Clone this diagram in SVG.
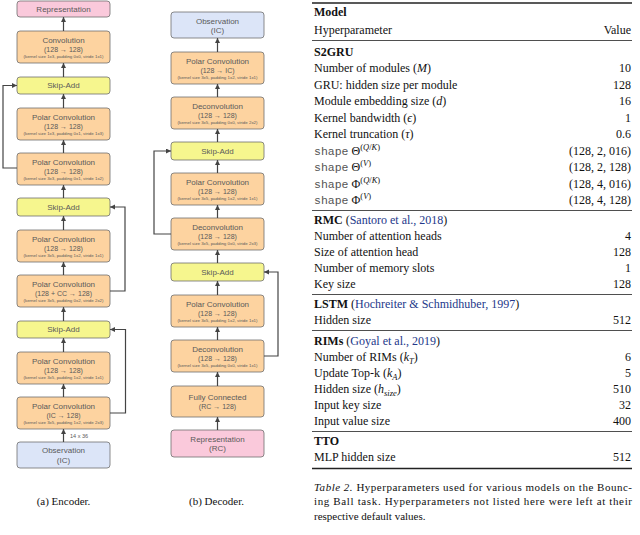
<svg xmlns="http://www.w3.org/2000/svg" width="640" height="535" viewBox="0 0 640 535">
<style>
.bx{stroke:#6e6e6e;stroke-width:0.8}
.or{fill:#fdd3a0}.yl{fill:#f6f68e}.pk{fill:#fac9db}.bl{fill:#dce5f8}
.t{font-family:"Liberation Sans",Arial,sans-serif;fill:#5a5a5a;text-anchor:middle}
.a{font-size:8px}.b{font-size:7px}.c{font-size:4.4px}
.cn{stroke:#444;stroke-width:1.2;fill:none}
.tb{font-family:"Liberation Serif","Times New Roman",serif;font-size:12px;fill:#111}
.v{text-anchor:end}
.cap{font-family:"Liberation Serif","Times New Roman",serif;font-size:11px;fill:#111}
.mono{font-family:"Liberation Mono","Courier New",monospace;font-size:11.5px;fill:#555}
.cite{fill:#23388a}
.rule{stroke:#222;stroke-width:0.8}
.rthick{stroke:#222;stroke-width:1.3}
</style>
<defs>
<marker id="ah" markerUnits="userSpaceOnUse" markerWidth="6" markerHeight="6" refX="5" refY="2.5" orient="auto">
<path d="M0,0 L5,2.5 L0,5 z" fill="#444"/>
</marker>
</defs>

<!-- Encoder -->
<g id="enc-rep"><rect class="bx pk" x="17" y="1" width="93" height="16" rx="3"/><text class="t a" x="63.5" y="12">Representation</text></g>
<g id="enc-conv"><rect class="bx or" x="17" y="31" width="93" height="32" rx="3"/><text class="t a" x="63.5" y="42.5">Convolution</text><text class="t b" x="63.5" y="51.5">(128 → 128)</text><text class="t c" x="63.5" y="57.5">(kernel size 1x3, padding 0x0, stride 1x1)</text></g>
<g id="enc-skip3"><rect class="bx yl" x="17" y="77" width="93" height="17" rx="3"/><text class="t a" x="63.5" y="88.3">Skip-Add</text></g>
<g id="enc-pc5"><rect class="bx or" x="17" y="108" width="93" height="32" rx="3"/><text class="t a" x="63.5" y="119.5">Polar Convolution</text><text class="t b" x="63.5" y="128.5">(128 → 128)</text><text class="t c" x="63.5" y="134.5">(kernel size 1x3, padding 0x1, stride 1x3)</text></g>
<g id="enc-pc4"><rect class="bx or" x="17" y="153" width="93" height="32" rx="3"/><text class="t a" x="63.5" y="164.5">Polar Convolution</text><text class="t b" x="63.5" y="173.5">(128 → 128)</text><text class="t c" x="63.5" y="179.5">(kernel size 3x3, padding 0x1, stride 1x2)</text></g>
<g id="enc-skip2"><rect class="bx yl" x="17" y="198" width="93" height="18" rx="3"/><text class="t a" x="63.5" y="209.8">Skip-Add</text></g>
<g id="enc-pc3"><rect class="bx or" x="17" y="230" width="93" height="32" rx="3"/><text class="t a" x="63.5" y="241.5">Polar Convolution</text><text class="t b" x="63.5" y="250.5">(128 → 128)</text><text class="t c" x="63.5" y="256.5">(kernel size 3x5, padding 1x2, stride 1x1)</text></g>
<g id="enc-pc2"><rect class="bx or" x="17" y="275" width="93" height="32" rx="3"/><text class="t a" x="63.5" y="286.5">Polar Convolution</text><text class="t b" x="63.5" y="295.5">(128 + CC → 128)</text><text class="t c" x="63.5" y="301.5">(kernel size 3x5, padding 0x2, stride 2x2)</text></g>
<g id="enc-skip1"><rect class="bx yl" x="17" y="321" width="93" height="17" rx="3"/><text class="t a" x="63.5" y="332.3">Skip-Add</text></g>
<g id="enc-pc1"><rect class="bx or" x="17" y="352" width="93" height="32" rx="3"/><text class="t a" x="63.5" y="363.5">Polar Convolution</text><text class="t b" x="63.5" y="372.5">(128 → 128)</text><text class="t c" x="63.5" y="378.5">(kernel size 3x5, padding 1x2, stride 1x1)</text></g>
<g id="enc-pc0"><rect class="bx or" x="17" y="397" width="93" height="32" rx="3"/><text class="t a" x="63.5" y="408.5">Polar Convolution</text><text class="t b" x="63.5" y="417.5">(IC → 128)</text><text class="t c" x="63.5" y="423.5">(kernel size 3x5, padding 1x2, stride 2x3)</text></g>
<g id="enc-obs"><rect class="bx bl" x="17" y="442" width="93" height="26" rx="3"/><text class="t a" x="63.5" y="453">Observation</text><text class="t a" x="63.5" y="462.5">(IC)</text></g>

<!-- Decoder -->
<g id="dec-obs"><rect class="bx bl" x="171" y="12" width="93" height="26" rx="3"/><text class="t a" x="217.5" y="23.5">Observation</text><text class="t a" x="217.5" y="33">(IC)</text></g>
<g id="dec-pc2"><rect class="bx or" x="171" y="52" width="93" height="32" rx="3"/><text class="t a" x="217.5" y="63.5">Polar Convolution</text><text class="t b" x="217.5" y="72.5">(128 → IC)</text><text class="t c" x="217.5" y="78.5">(kernel size 3x5, padding 1x2, stride 1x1)</text></g>
<g id="dec-dc2"><rect class="bx or" x="171" y="97" width="93" height="32" rx="3"/><text class="t a" x="217.5" y="108.5">Deconvolution</text><text class="t b" x="217.5" y="117.5">(128 → 128)</text><text class="t c" x="217.5" y="123.5">(kernel size 3x5, padding 0x0, stride 2x2)</text></g>
<g id="dec-skip2"><rect class="bx yl" x="171" y="142" width="93" height="18" rx="3"/><text class="t a" x="217.5" y="153.8">Skip-Add</text></g>
<g id="dec-pc1"><rect class="bx or" x="171" y="173" width="93" height="32" rx="3"/><text class="t a" x="217.5" y="184.5">Polar Convolution</text><text class="t b" x="217.5" y="193.5">(128 → 128)</text><text class="t c" x="217.5" y="199.5">(kernel size 3x5, padding 1x2, stride 1x1)</text></g>
<g id="dec-dc1"><rect class="bx or" x="171" y="218" width="93" height="32" rx="3"/><text class="t a" x="217.5" y="229.5">Deconvolution</text><text class="t b" x="217.5" y="238.5">(128 → 128)</text><text class="t c" x="217.5" y="244.5">(kernel size 3x5, padding 0x0, stride 2x3)</text></g>
<g id="dec-skip1"><rect class="bx yl" x="171" y="263" width="93" height="18" rx="3"/><text class="t a" x="217.5" y="274.8">Skip-Add</text></g>
<g id="dec-pc0"><rect class="bx or" x="171" y="295" width="93" height="32" rx="3"/><text class="t a" x="217.5" y="306.5">Polar Convolution</text><text class="t b" x="217.5" y="315.5">(128 → 128)</text><text class="t c" x="217.5" y="321.5">(kernel size 3x5, padding 1x2, stride 1x1)</text></g>
<g id="dec-dc0"><rect class="bx or" x="171" y="340" width="93" height="32" rx="3"/><text class="t a" x="217.5" y="351.5">Deconvolution</text><text class="t b" x="217.5" y="360.5">(128 → 128)</text><text class="t c" x="217.5" y="366.5">(kernel size 3x5, padding 0x0, stride 1x1)</text></g>
<g id="dec-fc"><rect class="bx or" x="171" y="386" width="93" height="31" rx="3"/><text class="t a" x="217.5" y="399.5">Fully Connected</text><text class="t b" x="217.5" y="408.5">(RC → 128)</text></g>
<g id="dec-rep"><rect class="bx pk" x="171" y="430" width="93" height="27" rx="3"/><text class="t a" x="217.5" y="441.5">Representation</text><text class="t a" x="217.5" y="451">(RC)</text></g>

<!-- Connectors -->
<g id="connectors" class="cn" marker-end="url(#ah)">
<line x1="63.5" y1="442" x2="63.5" y2="429"/>
<line x1="63.5" y1="397" x2="63.5" y2="384"/>
<line x1="63.5" y1="352" x2="63.5" y2="338"/>
<line x1="63.5" y1="321" x2="63.5" y2="307"/>
<line x1="63.5" y1="275" x2="63.5" y2="262"/>
<line x1="63.5" y1="230" x2="63.5" y2="216"/>
<line x1="63.5" y1="198" x2="63.5" y2="185"/>
<line x1="63.5" y1="153" x2="63.5" y2="140"/>
<line x1="63.5" y1="108" x2="63.5" y2="94"/>
<line x1="63.5" y1="77" x2="63.5" y2="63"/>
<line x1="63.5" y1="31" x2="63.5" y2="17"/>
<polyline points="17,168 3,168 3,85.5 17,85.5"/>
<polyline points="110,291 125,291 125,207 110,207"/>
<polyline points="110,413 125.5,413 125.5,329.5 110,329.5"/>
<line x1="217.5" y1="430" x2="217.5" y2="417"/>
<line x1="217.5" y1="386" x2="217.5" y2="372"/>
<line x1="217.5" y1="340" x2="217.5" y2="327"/>
<line x1="217.5" y1="295" x2="217.5" y2="281"/>
<line x1="217.5" y1="263" x2="217.5" y2="250"/>
<line x1="217.5" y1="218" x2="217.5" y2="205"/>
<line x1="217.5" y1="173" x2="217.5" y2="160"/>
<line x1="217.5" y1="142" x2="217.5" y2="129"/>
<line x1="217.5" y1="97" x2="217.5" y2="84"/>
<line x1="217.5" y1="52" x2="217.5" y2="38"/>
<polyline points="171,234 154,234 154,151 171,151"/>
<polyline points="264,356 278,356 278,272 264,272"/>
</g>
<text class="t" x="70" y="437.5" style="font-size:5.5px;text-anchor:start">14 x 36</text>

<text class="cap" x="63.5" y="504.5" text-anchor="middle">(a) Encoder.</text>
<text class="cap" x="216.5" y="504.5" text-anchor="middle">(b) Decoder.</text>

<!-- Table -->
<g id="table">
<line class="rthick" x1="312" y1="3" x2="632" y2="3"/>
<text class="tb" x="314" y="16" font-weight="bold">Model</text>
<text class="tb" x="314" y="33.5">Hyperparameter</text>
<text class="tb v" x="631" y="33.5">Value</text>
<line class="rule" x1="312" y1="40.5" x2="632" y2="40.5"/>

<text class="tb" x="314" y="55.5" font-weight="bold">S2GRU</text>
<text class="tb" x="314" y="72">Number of modules (<tspan font-style="italic">M</tspan>)</text><text class="tb v" x="631" y="72">10</text>
<text class="tb" x="314" y="88.5">GRU: hidden size per module</text><text class="tb v" x="631" y="88.5">128</text>
<text class="tb" x="314" y="105">Module embedding size (<tspan font-style="italic">d</tspan>)</text><text class="tb v" x="631" y="105">16</text>
<text class="tb" x="314" y="121.5">Kernel bandwidth (<tspan font-style="italic">ϵ</tspan>)</text><text class="tb v" x="631" y="121.5">1</text>
<text class="tb" x="314" y="138">Kernel truncation (<tspan font-style="italic">τ</tspan>)</text><text class="tb v" x="631" y="138">0.6</text>
<text class="tb" x="314" y="154.5"><tspan class="mono">shape</tspan> Θ<tspan font-size="8.5" dy="-5">(<tspan font-style="italic">Q</tspan>/<tspan font-style="italic">K</tspan>)</tspan></text><text class="tb v" x="631" y="154.5">(128, 2, 016)</text>
<text class="tb" x="314" y="171"><tspan class="mono">shape</tspan> Θ<tspan font-size="8.5" dy="-5">(<tspan font-style="italic">V</tspan>)</tspan></text><text class="tb v" x="631" y="171">(128, 2, 128)</text>
<text class="tb" x="314" y="187.5"><tspan class="mono">shape</tspan> Φ<tspan font-size="8.5" dy="-5">(<tspan font-style="italic">Q</tspan>/<tspan font-style="italic">K</tspan>)</tspan></text><text class="tb v" x="631" y="187.5">(128, 4, 016)</text>
<text class="tb" x="314" y="204"><tspan class="mono">shape</tspan> Φ<tspan font-size="8.5" dy="-5">(<tspan font-style="italic">V</tspan>)</tspan></text><text class="tb v" x="631" y="204">(128, 4, 128)</text>
<line class="rule" x1="312" y1="210.5" x2="632" y2="210.5"/>

<text class="tb" x="314" y="223.5"><tspan font-weight="bold">RMC</tspan> (<tspan class="cite">Santoro et al., 2018</tspan>)</text>
<text class="tb" x="314" y="240">Number of attention heads</text><text class="tb v" x="631" y="240">4</text>
<text class="tb" x="314" y="256">Size of attention head</text><text class="tb v" x="631" y="256">128</text>
<text class="tb" x="314" y="272">Number of memory slots</text><text class="tb v" x="631" y="272">1</text>
<text class="tb" x="314" y="288">Key size</text><text class="tb v" x="631" y="288">128</text>
<line class="rule" x1="312" y1="294.5" x2="632" y2="294.5"/>

<text class="tb" x="314" y="307.5"><tspan font-weight="bold">LSTM</tspan> (<tspan class="cite">Hochreiter &amp; Schmidhuber, 1997</tspan>)</text>
<text class="tb" x="314" y="323.5">Hidden size</text><text class="tb v" x="631" y="323.5">512</text>
<text class="tb" x="314" y="345"><tspan font-weight="bold">RIMs</tspan> (<tspan class="cite">Goyal et al., 2019</tspan>)</text>
<line class="rule" x1="312" y1="330.5" x2="632" y2="330.5"/>
<text class="tb" x="314" y="361">Number of RIMs (<tspan font-style="italic">k</tspan><tspan font-style="italic" font-size="8.5" dy="2.5">T</tspan><tspan dy="-2.5">)</tspan></text><text class="tb v" x="631" y="361">6</text>
<text class="tb" x="314" y="377">Update Top-k (<tspan font-style="italic">k</tspan><tspan font-style="italic" font-size="8.5" dy="2.5">A</tspan><tspan dy="-2.5">)</tspan></text><text class="tb v" x="631" y="377">5</text>
<text class="tb" x="314" y="393">Hidden size (<tspan font-style="italic">h</tspan><tspan font-style="italic" font-size="8.5" dy="2.5">size</tspan><tspan dy="-2.5">)</tspan></text><text class="tb v" x="631" y="393">510</text>
<text class="tb" x="314" y="409">Input key size</text><text class="tb v" x="631" y="409">32</text>
<text class="tb" x="314" y="425">Input value size</text><text class="tb v" x="631" y="425">400</text>
<line class="rule" x1="312" y1="431.5" x2="632" y2="431.5"/>
<text class="tb" x="314" y="444.5" font-weight="bold">TTO</text>
<text class="tb" x="314" y="460.5">MLP hidden size</text><text class="tb v" x="631" y="460.5">512</text>
<line class="rthick" x1="312" y1="468.5" x2="632" y2="468.5"/>
</g>

<g id="caption">
<text class="cap" x="314" y="490.5" textLength="318" lengthAdjust="spacing"><tspan font-style="italic">Table 2.</tspan> Hyperparameters used for various models on the Bounc-</text>
<text class="cap" x="314" y="505" textLength="318" lengthAdjust="spacing">ing Ball task.  Hyperparameters not listed here were left at their</text>
<text class="cap" x="314" y="519.5">respective default values.</text>
</g>
</svg>
